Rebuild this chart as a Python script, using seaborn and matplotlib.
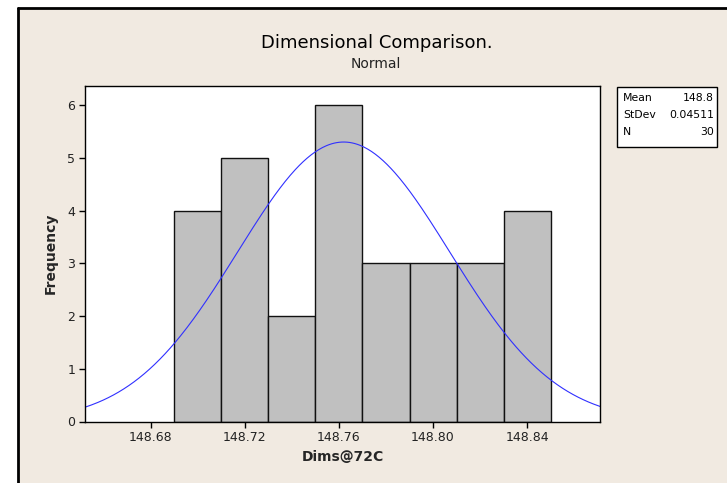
import numpy as np
import pandas as pd
import matplotlib
matplotlib.use("Agg")
import matplotlib.pyplot as plt
import seaborn as sns
from matplotlib.patches import Rectangle
from matplotlib.lines import Line2D

# ---- data ----
bin_edges = [148.69, 148.71, 148.73, 148.75, 148.77, 148.79, 148.81, 148.83, 148.85]
counts = [4, 5, 2, 6, 3, 3, 3, 4]
fit_mean = 148.762
fit_stdev = 0.04511
n_obs = 30
x_ticks = [148.68, 148.72, 148.76, 148.80, 148.84]
x_tick_labels = ["148.68", "148.72", "148.76", "148.80", "148.84"]
y_ticks = [0, 1, 2, 3, 4, 5, 6]
stats_labels = ["Mean", "StDev", "N"]
stats_values = ["148.8", "0.04511", "30"]

sns.set_style("white")
plt.rcParams['font.family'] = ['DejaVu Sans']

BG = "#f1eae1"
fig = plt.figure(figsize=(7.27, 4.83), dpi=100)
fig.patch.set_facecolor("white")
W, H = 727, 483

# beige panel with black frame on left/top
fig.patches.append(Rectangle((18 / W, 0), 1 - 18 / W, 1 - 8 / H, transform=fig.transFigure,
                             facecolor=BG, edgecolor="none", zorder=-10))
fig.lines.append(Line2D([18 / W, 18 / W], [0, 1 - 8 / H], transform=fig.transFigure,
                        color="black", lw=2))
fig.lines.append(Line2D([18 / W, 1], [1 - 8 / H, 1 - 8 / H], transform=fig.transFigure,
                        color="black", lw=2))

ax = fig.add_axes([85 / W, 1 - 421.5 / H, (600 - 85) / W, (421.5 - 86) / H])
ax.set_facecolor("white")

df = pd.DataFrame({
    "center": [(bin_edges[i] + bin_edges[i + 1]) / 2 for i in range(len(counts))],
    "count": counts,
})
sns.histplot(data=df, x="center", weights="count", bins=bin_edges, ax=ax,
             color="#c0c0c0", alpha=1, edgecolor="#111111", linewidth=1.0)

xmin, xmax = 148.652, 148.871
bw = bin_edges[1] - bin_edges[0]
xs = np.linspace(xmin, xmax, 400)
ys = n_obs * bw / (fit_stdev * np.sqrt(2 * np.pi)) * np.exp(-0.5 * ((xs - fit_mean) / fit_stdev) ** 2)
sns.lineplot(x=xs, y=ys, ax=ax, color="#3030ff", lw=0.8)

ax.set_xlim(xmin, xmax)
ax.set_ylim(0, 6.37)
ax.set_xticks(x_ticks)
ax.set_xticklabels(x_tick_labels)
ax.set_yticks(y_ticks)
ax.tick_params(axis="both", which="both", direction="out", length=4, width=1,
               color="black", labelsize=9, labelcolor="#222222", pad=3,
               bottom=True, left=True)
for s in ax.spines.values():
    s.set_color("black")
    s.set_linewidth(1)
ax.set_xlabel("Dims@72C", fontsize=10, fontweight="bold", labelpad=4)
ax.set_ylabel("Frequency", fontsize=10, fontweight="bold", labelpad=7)

fig.text(377 / W, 1 - 43 / H, "Dimensional Comparison.", ha="center", va="center",
         fontsize=13, color="black")
fig.text(376 / W, 1 - 64 / H, "Normal", ha="center", va="center",
         fontsize=10, color="#222222")

# stats box
bx0, by0, bx1, by1 = 617, 87, 717, 147
fig.patches.append(Rectangle((bx0 / W, 1 - by1 / H), (bx1 - bx0) / W, (by1 - by0) / H,
                             transform=fig.transFigure, facecolor="white",
                             edgecolor="black", lw=1))
for i, (lab, val) in enumerate(zip(stats_labels, stats_values)):
    yy = 1 - (98 + i * 17) / H
    fig.text(623 / W, yy, lab, ha="left", va="center", fontsize=7.8, color="black")
    fig.text(714 / W, yy, val, ha="right", va="center", fontsize=7.8, color="black")

fig.savefig("out.png", dpi=100, facecolor=fig.get_facecolor())
